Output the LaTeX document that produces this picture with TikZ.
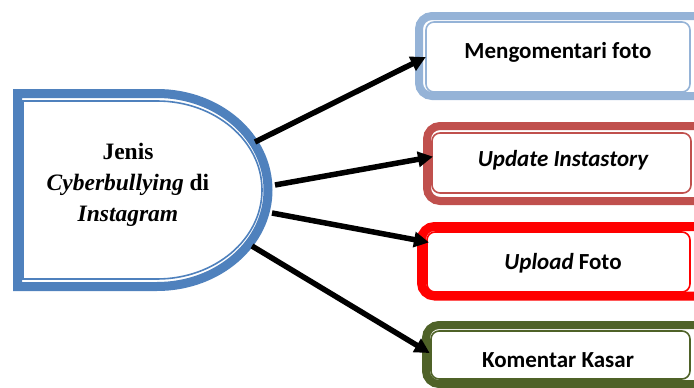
\documentclass[tikz,border=0pt]{standalone}
\usepackage{fontspec}
\setmainfont{Liberation Serif}
\newfontfamily\calfont{Carlito}
\usetikzlibrary{arrows.meta}
\definecolor{dblue}{HTML}{4F81BD}
\definecolor{lblue}{HTML}{95B3D7}
\definecolor{dred}{HTML}{C0504D}
\definecolor{bred}{HTML}{FF0000}
\definecolor{olive}{HTML}{4F6228}
\tikzset{
  bandbox/.style={draw=#1, line width=8pt, rounded corners=13pt},
  innerbox/.style={draw=#1, line width=1.6pt, rounded corners=8pt, fill=white},
  conn/.style={line width=5.5pt, -{Triangle[length=15pt,width=15pt]}, shorten >=-2pt},
  lbl/.style={font=\calfont\bfseries\fontsize{23}{26}\selectfont, inner sep=0pt},
}
\begin{document}
\begin{tikzpicture}[x=1pt,y=-1pt]
\useasboundingbox (0,0) rectangle (694,388);
\clip (0,0) rectangle (694,388);
% left D shape
\draw[draw=dblue, line width=9pt, fill=white] (17.5,93.5) -- (157,93.5) arc[start angle=90, end angle=-90, x radius=111, y radius=-96.5] -- (17.5,286.5) -- cycle;
\draw[draw=dblue, line width=1.6pt] (23,101) -- (157,101) arc[start angle=90, end angle=-90, x radius=105, y radius=-89] -- (23,279) -- cycle;
\node[font=\bfseries\fontsize{23.5}{31}\selectfont, align=center, inner sep=0pt] (src) at (128,185) {Jenis\\\textit{Cyberbullying} di\\\textit{Instagram}};
% boxes
\draw[bandbox=lblue] (419,16) rectangle (710,96);
\draw[innerbox=lblue] (426,22) rectangle (690,92);
\node[lbl] (b1) at (558,52) {Mengomentari foto};
\draw[bandbox=dred] (427,126) rectangle (710,201);
\draw[innerbox=dred] (432,133) rectangle (691,193);
\node[lbl] (b2) at (563,160) {\itshape Update Instastory};
\draw[bandbox=bred, line width=9pt] (421.5,226.5) rectangle (710,296);
\draw[innerbox=bred] (427,232) rectangle (690,292);
\node[lbl] (b3) at (563,263) {\textit{Upload} Foto};
\draw[bandbox=olive] (426,325) rectangle (710,384);
\draw[innerbox=olive] (431,331) rectangle (690,379);
\node[lbl] (b4) at (558,360) {Komentar Kasar};
% connectors
\coordinate (s1) at (255,142);
\coordinate (s2) at (275,185);
\coordinate (s3) at (272,213);
\coordinate (s4) at (252,246);
\coordinate (t1) at (424,58);
\coordinate (t2) at (431,157);
\coordinate (t3) at (427,242);
\coordinate (t4) at (428,352);
\draw[conn] (s1) -- (t1);
\draw[conn] (s2) -- (t2);
\draw[conn] (s3) -- (t3);
\draw[conn] (s4) -- (t4);
\end{tikzpicture}
\end{document}
